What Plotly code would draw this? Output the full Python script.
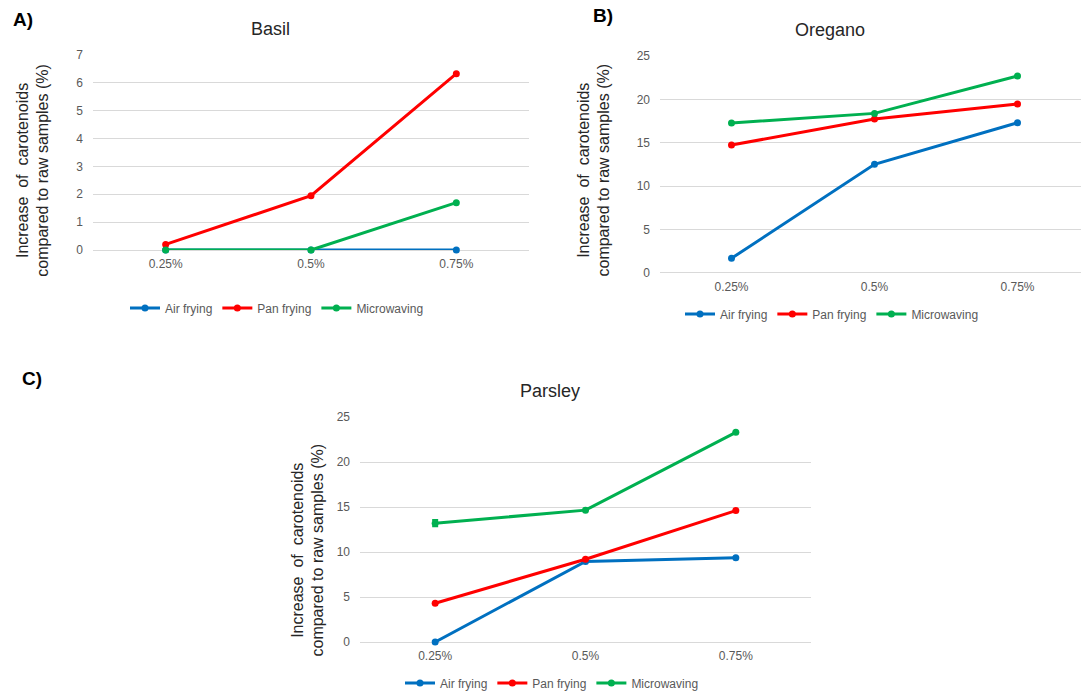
import plotly.graph_objects as go

W, H = 1081, 693

categories = ["0.25%", "0.5%", "0.75%"]
series_names = ["Air frying", "Pan frying", "Microwaving"]
colors = ["#0070C0", "#FF0000", "#00B050"]

basil_air = [0, 0, 0]
basil_pan = [0.2, 1.95, 6.33]
basil_micro = [0, 0, 1.7]

oregano_air = [1.66, 12.5, 17.3]
oregano_pan = [14.73, 17.73, 19.45]
oregano_micro = [17.27, 18.38, 22.69]

parsley_air = [0, 8.95, 9.37]
parsley_pan = [4.3, 9.2, 14.6]
parsley_micro = [13.2, 14.65, 23.3]
parsley_micro_err = [0.35, 0, 0]

FONT = "Liberation Sans, Arial, sans-serif"
TICK_C = "#595959"
GRID_C = "#D9D9D9"


def px(x):
    return x / W


def py(y):
    return 1 - y / H


fig = go.Figure()

panels = [
    dict(name="Basil", ax="x", ay="y", leg="legend",
         data=[basil_air, basil_pan, basil_micro], err=None,
         xdom=[93, 529], ydom=[250, 55], yrange=[0, 7], dtick=1,
         xrange=[-0.5, 2.5],
         title=(270, 29), ytitle=(32.7, 170), legend=(277, 308),
         label=("A)", 23, 19)),
    dict(name="Oregano", ax="x2", ay="y2", leg="legend2",
         data=[oregano_air, oregano_pan, oregano_micro], err=None,
         xdom=[660, 1081], ydom=[272.7, 56], yrange=[0, 25], dtick=5,
         xrange=[-0.5, 2.444],
         title=(830, 29.5), ytitle=(593.5, 170), legend=(832, 314),
         label=("B)", 603, 15)),
    dict(name="Parsley", ax="x3", ay="y3", leg="legend3",
         data=[parsley_air, parsley_pan, parsley_micro], err=parsley_micro_err,
         xdom=[360, 811], ydom=[642, 417], yrange=[0, 25], dtick=5,
         xrange=[-0.5, 2.5],
         title=(550, 391), ytitle=(307.5, 550), legend=(552, 683),
         label=("C)", 32, 378)),
]

annotations = []
layout_axes = {}
legends = {}

for p in panels:
    for i, (nm, col, vals) in enumerate(zip(series_names, colors, p["data"])):
        kw = {}
        if p["err"] is not None and i == 2:
            kw["error_y"] = dict(type="data", array=p["err"], visible=True,
                                 color=col, thickness=2, width=3)
        fig.add_trace(go.Scatter(
            x=categories, y=vals, name=nm, mode="lines+markers",
            line=dict(color=col, width=3),
            marker=dict(color=col, size=7),
            xaxis=p["ax"], yaxis=p["ay"], legend=p["leg"],
            cliponaxis=False, **kw))
    xkey = "xaxis" + p["ax"][1:]
    ykey = "yaxis" + p["ay"][1:]
    layout_axes[xkey] = dict(
        domain=[px(p["xdom"][0]), px(p["xdom"][1])],
        anchor=p["ay"], type="category", range=p["xrange"],
        showgrid=False, zeroline=False, showline=False, ticks="",
        tickfont=dict(family=FONT, size=12, color=TICK_C),
        ticklabelstandoff=5, fixedrange=True, automargin=False)
    layout_axes[ykey] = dict(
        domain=[py(p["ydom"][0]), py(p["ydom"][1])],
        anchor=p["ax"], range=p["yrange"], dtick=p["dtick"], tick0=0,
        showgrid=True, gridcolor=GRID_C, gridwidth=1,
        zeroline=True, zerolinecolor=GRID_C, zerolinewidth=1,
        showline=False, ticks="",
        tickfont=dict(family=FONT, size=12, color=TICK_C),
        ticklabelstandoff=9, fixedrange=True, automargin=False)
    lx_, ly_ = p["legend"]
    legends[p["leg"]] = dict(
        orientation="h", x=px(lx_), y=py(ly_),
        xanchor="center", yanchor="middle",
        font=dict(family=FONT, size=12, color=TICK_C),
        bgcolor="rgba(0,0,0,0)", itemclick=False, itemdoubleclick=False)
    annotations.append(dict(
        text=p["name"], x=px(p["title"][0]), y=py(p["title"][1]),
        xref="paper", yref="paper", xanchor="center", yanchor="middle",
        showarrow=False, font=dict(family=FONT, size=18, color="#262626")))
    annotations.append(dict(
        text="Increase\u00a0 of\u00a0 carotenoids<br>compared to raw samples (%)",
        x=px(p["ytitle"][0]), y=py(p["ytitle"][1]),
        xref="paper", yref="paper", xanchor="center", yanchor="middle",
        textangle=-90, showarrow=False,
        font=dict(family=FONT, size=16, color="#262626")))
    lab, lx, ly = p["label"]
    annotations.append(dict(
        text="<b>" + lab + "</b>", x=px(lx), y=py(ly),
        xref="paper", yref="paper", xanchor="center", yanchor="middle",
        showarrow=False, font=dict(family=FONT, size=19, color="#000000")))

fig.update_layout(
    width=W, height=H,
    margin=dict(l=0, r=0, t=0, b=0, autoexpand=False),
    paper_bgcolor="white", plot_bgcolor="white",
    annotations=annotations,
    **layout_axes, **legends)

fig.write_html("out.html", config={"displayModeBar": False},
               post_script="document.body.style.margin='0';")
